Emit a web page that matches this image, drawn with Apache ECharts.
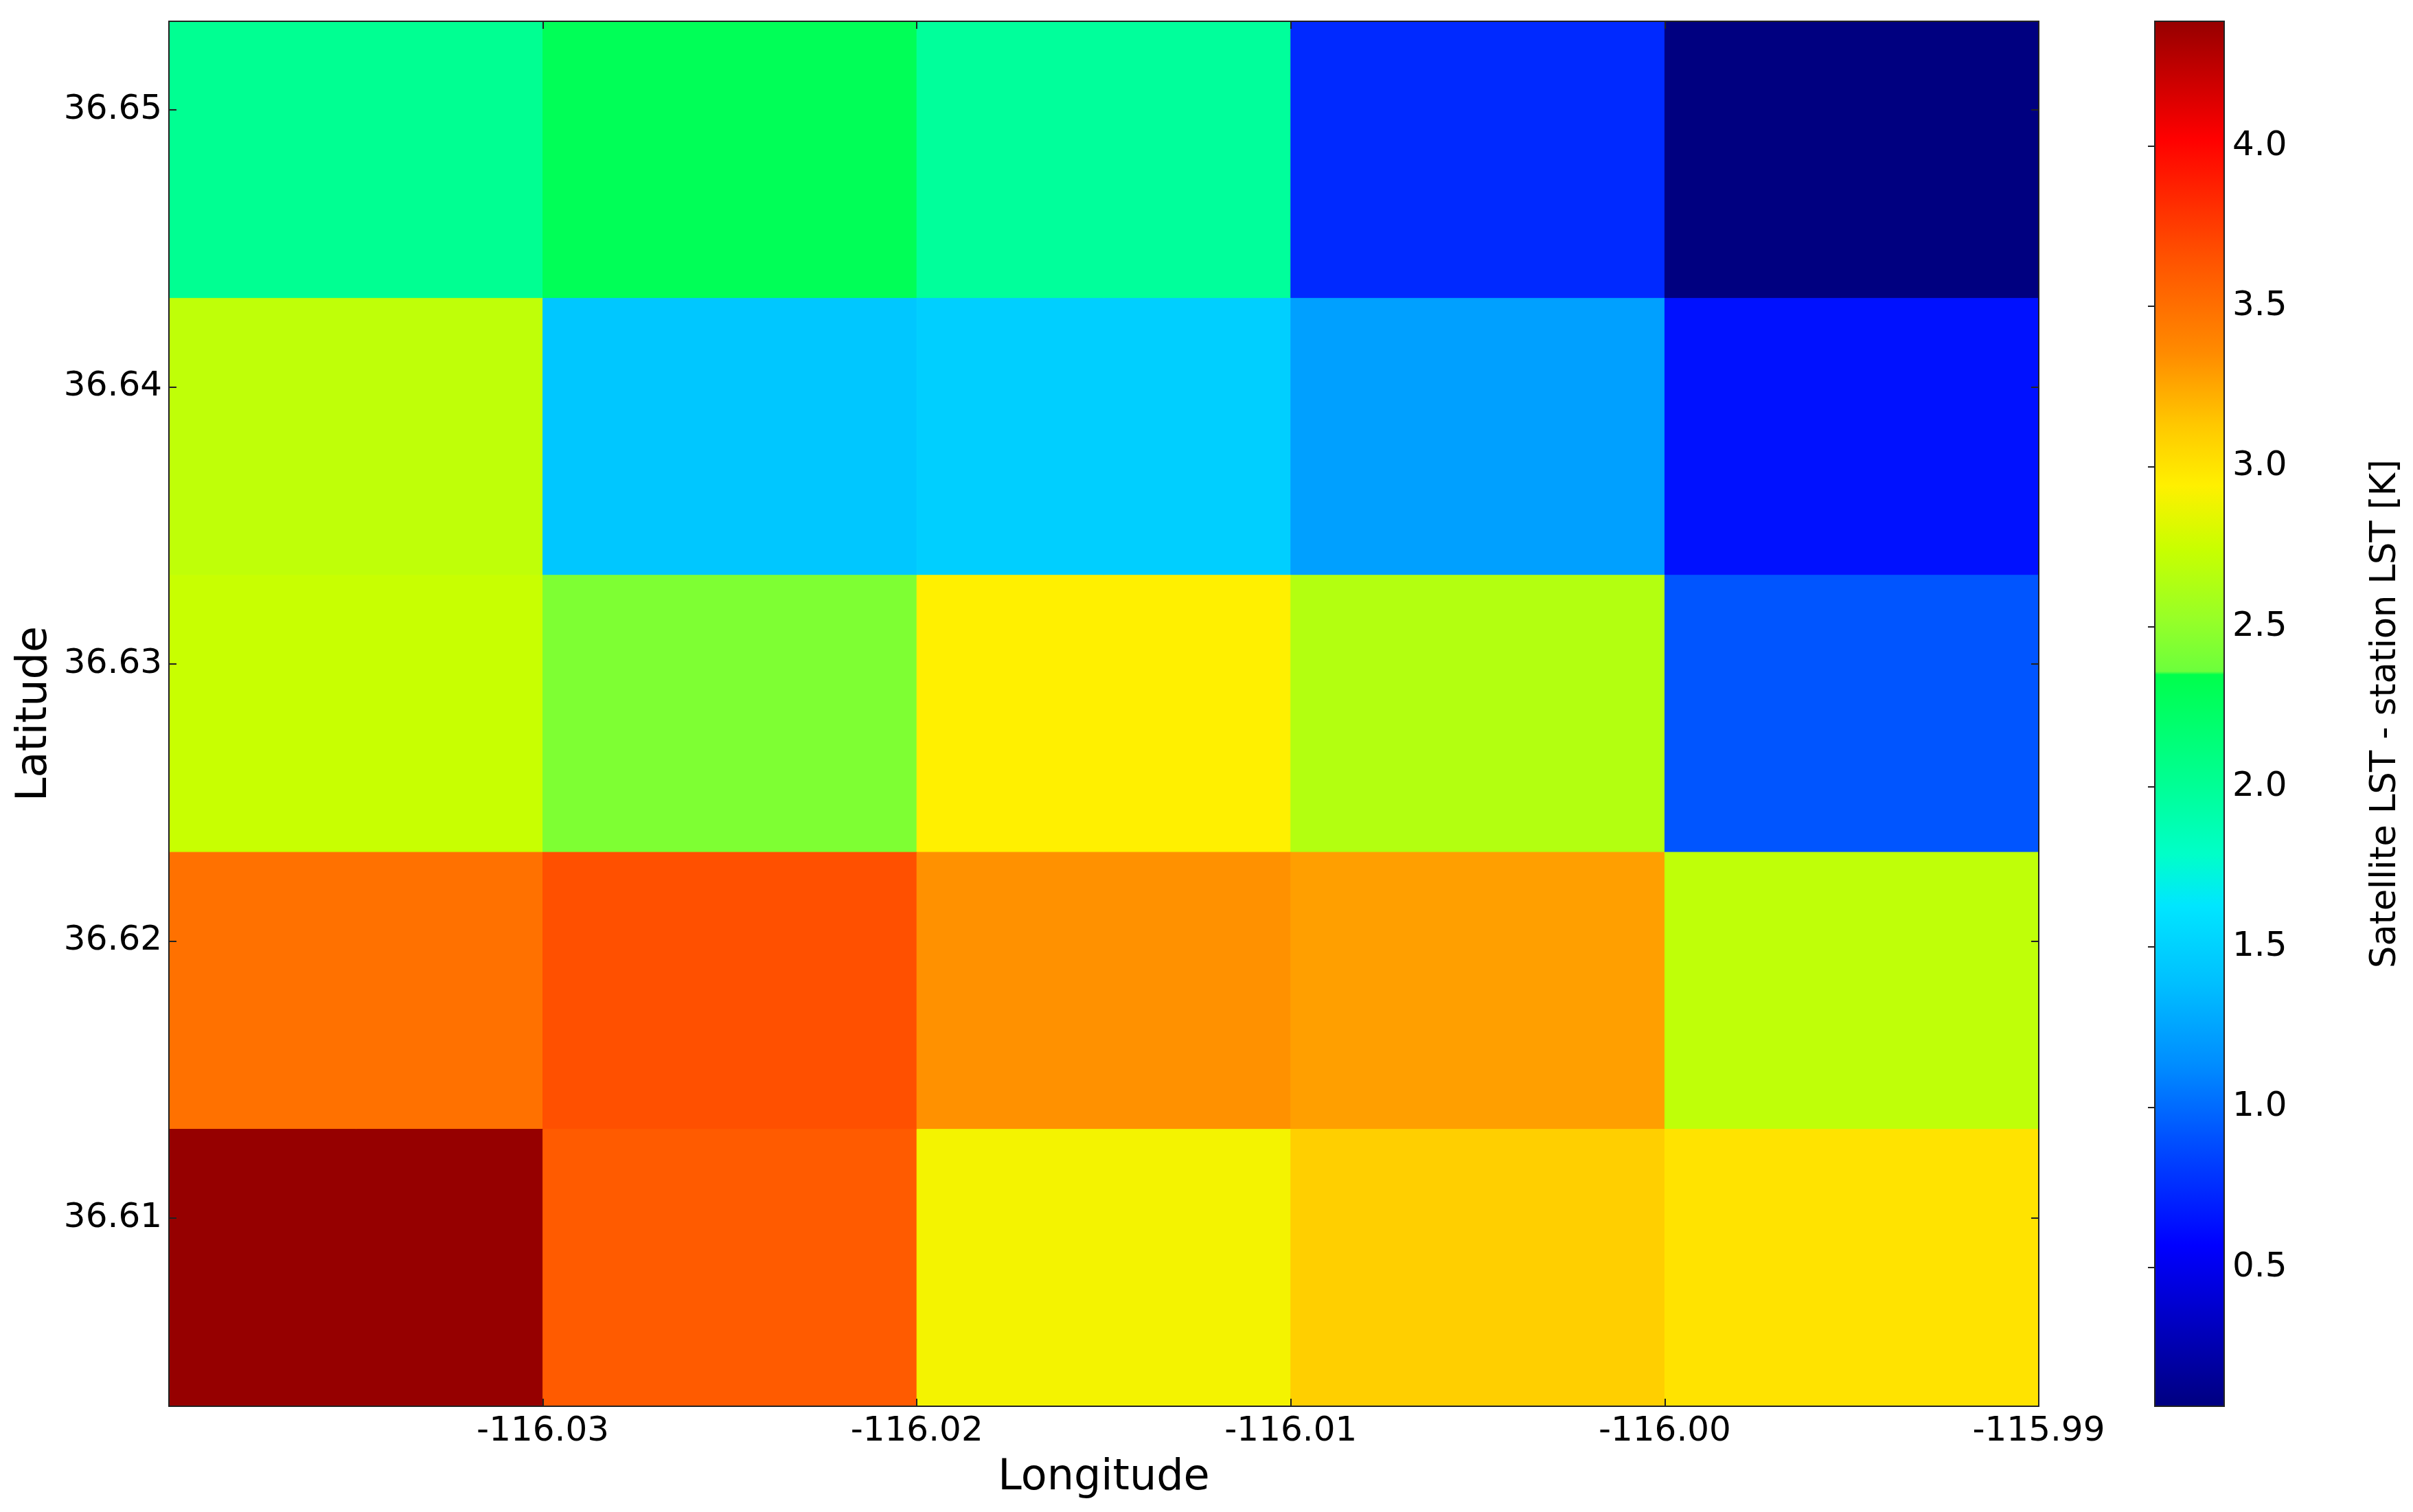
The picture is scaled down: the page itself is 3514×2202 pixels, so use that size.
<!DOCTYPE html>
<html>
<head>
<meta charset="utf-8">
<style>
html, body { margin: 0; padding: 0; background: #fff; }
#chart { width: 3514px; height: 2202px; }
</style>
<script src="https://cdn.jsdelivr.net/npm/echarts@6/dist/echarts.min.js"></script>
</head>
<body>
<div id="chart"></div>
<script>
// cell centres (degrees), top row first
var lons = [-116.035, -116.025, -116.015, -116.005, -115.995];
var lats = [36.6482, 36.6382, 36.6282, 36.6182, 36.6082];
// Satellite LST - station LST [K], one row per latitude
var row1 = [2.02, 2.30, 1.98, 0.74, 0.066];
var row2 = [2.70, 1.44, 1.49, 1.23, 0.64];
var row3 = [2.74, 2.43, 2.94, 2.65, 0.92];
var row4 = [3.49, 3.66, 3.33, 3.28, 2.70];
var row5 = [4.39, 3.60, 2.90, 3.10, 3.00];
var rows = [row1, row2, row3, row4, row5];

var lonTicks = [-116.03, -116.02, -116.01, -116.00, -115.99];
var latTicks = [36.61, 36.62, 36.63, 36.64, 36.65];
var cbTicks = [0.5, 1.0, 1.5, 2.0, 2.5, 3.0, 3.5, 4.0];

var LON_MIN = -116.04, LON_MAX = -115.99;
var LAT_MIN = 36.6032, LAT_MAX = 36.6532;
var VMIN = 0.066, VMAX = 4.39;
var HALF = 0.005;

// colour map as seen on the reference colour bar (value -> colour)
var cmap = [
  [0.066, '#000080'], [0.57, '#0000ff'], [0.90, '#0050ff'], [1.13, '#008cff'],
  [1.38, '#00beff'], [1.63, '#00e6ff'], [1.79, '#00ffc8'], [2.00, '#00ff96'],
  [2.35, '#00ff4c'], [2.36, '#6cff3c'], [2.52, '#96ff28'], [2.74, '#c8ff00'],
  [2.94, '#fff000'], [3.13, '#ffc800'], [3.35, '#ff8c00'], [3.66, '#ff5000'],
  [4.02, '#ff0000'], [4.39, '#960000']
];

function hex2rgb(h) {
  return [parseInt(h.substr(1, 2), 16), parseInt(h.substr(3, 2), 16), parseInt(h.substr(5, 2), 16)];
}
function colorAt(v) {
  if (v <= cmap[0][0]) return cmap[0][1];
  for (var i = 1; i < cmap.length; i++) {
    if (v <= cmap[i][0]) {
      var a = hex2rgb(cmap[i - 1][1]), b = hex2rgb(cmap[i][1]);
      var f = (v - cmap[i - 1][0]) / (cmap[i][0] - cmap[i - 1][0]);
      return 'rgb(' + [0, 1, 2].map(function (k) { return Math.round(a[k] + (b[k] - a[k]) * f); }).join(',') + ')';
    }
  }
  return cmap[cmap.length - 1][1];
}
var rampColors = [];
for (var i = 0; i <= 400; i++) rampColors.push(colorAt(VMIN + (VMAX - VMIN) * i / 400));
var gradStops = cmap.map(function (s) {
  return { offset: (VMAX - s[0]) / (VMAX - VMIN), color: s[1] };
}).reverse();

var cells = [];
rows.forEach(function (r, j) {
  r.forEach(function (v, i) { cells.push([lons[i], lats[j], v]); });
});

var FONT = 'DejaVu Sans';
var lineStyle = { color: '#222', width: 2 };
var tickStyle = { color: '#222', width: 2 };

var chart = echarts.init(document.getElementById('chart'));
chart.setOption({
  backgroundColor: '#fff',
  animation: false,
  textStyle: { fontFamily: FONT, color: '#000' },
  grid: [
    { left: 246, top: 31, width: 2723, height: 2017 },
    { left: 3138, top: 31, width: 101, height: 2017 }
  ],
  visualMap: {
    type: 'continuous', show: false, seriesIndex: 0, dimension: 2,
    min: VMIN, max: VMAX, inRange: { color: rampColors }
  },
  xAxis: [
    {
      type: 'value', gridIndex: 0, position: 'bottom', min: LON_MIN, max: LON_MAX, z: 10,
      name: 'Longitude', nameLocation: 'middle', nameGap: 74,
      nameTextStyle: { fontSize: 62, fontFamily: FONT, color: '#000' },
      axisLine: { show: true, lineStyle: lineStyle },
      axisTick: { show: true, inside: true, length: 11, lineStyle: tickStyle, customValues: lonTicks },
      axisLabel: { fontSize: 50, fontFamily: FONT, color: '#000', margin: 12, customValues: lonTicks,
        formatter: function (v) { return v.toFixed(2); } },
      splitLine: { show: false }
    },
    {
      type: 'value', gridIndex: 0, position: 'top', min: LON_MIN, max: LON_MAX, z: 10,
      axisLine: { show: true, lineStyle: lineStyle },
      axisTick: { show: true, inside: true, length: 11, lineStyle: tickStyle, customValues: lonTicks },
      axisLabel: { show: false },
      splitLine: { show: false }
    },
    {
      type: 'value', gridIndex: 1, min: 0, max: 1, show: false
    }
  ],
  yAxis: [
    {
      type: 'value', gridIndex: 0, position: 'left', min: LAT_MIN, max: LAT_MAX, z: 10,
      name: 'Latitude', nameLocation: 'middle', nameGap: 161, nameRotate: 90,
      nameTextStyle: { fontSize: 62, fontFamily: FONT, color: '#000' },
      axisLine: { show: true, lineStyle: lineStyle },
      axisTick: { show: true, inside: true, length: 11, lineStyle: tickStyle, customValues: latTicks },
      axisLabel: { fontSize: 50, fontFamily: FONT, color: '#000', margin: 10, customValues: latTicks,
        formatter: function (v) { return v.toFixed(2); } },
      splitLine: { show: false }
    },
    {
      type: 'value', gridIndex: 0, position: 'right', min: LAT_MIN, max: LAT_MAX, z: 10,
      axisLine: { show: true, lineStyle: lineStyle },
      axisTick: { show: true, inside: true, length: 11, lineStyle: tickStyle, customValues: latTicks },
      axisLabel: { show: false },
      splitLine: { show: false }
    },
    {
      type: 'value', gridIndex: 1, position: 'right', min: VMIN, max: VMAX, z: 10,
      name: 'Satellite LST - station LST [K]', nameLocation: 'middle', nameGap: 210, nameRotate: 90,
      nameTextStyle: { fontSize: 51, fontFamily: FONT, color: '#000' },
      axisLine: { show: false },
      axisTick: { show: true, inside: true, length: 10, lineStyle: tickStyle, customValues: cbTicks },
      axisLabel: { fontSize: 50, fontFamily: FONT, color: '#000', margin: 12, customValues: cbTicks,
        formatter: function (v) { return v.toFixed(1); } },
      splitLine: { show: false }
    }
  ],
  series: [
    {
      type: 'custom', xAxisIndex: 0, yAxisIndex: 0,
      encode: { x: 0, y: 1 },
      data: cells,
      renderItem: function (params, api) {
        var lon = api.value(0), lat = api.value(1);
        var p0 = api.coord([lon - HALF, lat + HALF]);
        var p1 = api.coord([lon + HALF, lat - HALF]);
        var c = api.visual('color');
        return {
          type: 'rect',
          shape: { x: p0[0], y: p0[1], width: p1[0] - p0[0], height: p1[1] - p0[1] },
          style: { fill: c, stroke: c, lineWidth: 1 }
        };
      }
    },
    {
      type: 'custom', xAxisIndex: 2, yAxisIndex: 2,
      data: [[0, VMIN, 1, VMAX]],
      renderItem: function (params, api) {
        var p0 = api.coord([api.value(0), api.value(3)]);
        var p1 = api.coord([api.value(2), api.value(1)]);
        return {
          type: 'rect',
          shape: { x: p0[0], y: p0[1], width: p1[0] - p0[0], height: p1[1] - p0[1] },
          style: {
            fill: new echarts.graphic.LinearGradient(0, 0, 0, 1, gradStops),
            stroke: '#222', lineWidth: 2
          }
        };
      }
    }
  ]
});
</script>
</body>
</html>
